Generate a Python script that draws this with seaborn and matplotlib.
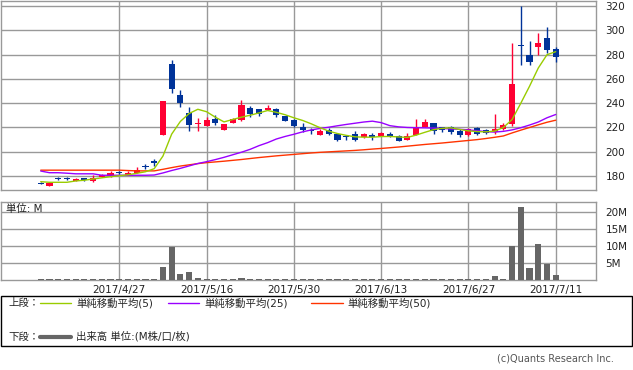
import numpy as np
import pandas as pd
import seaborn as sns
import matplotlib.pyplot as plt
from matplotlib.patches import Rectangle
from matplotlib.lines import Line2D


# 日足データ (2017/4/14 - 2017/7/11)
dates = ['4/14', '4/17', '4/18', '4/19', '4/20', '4/21', '4/24', '4/25', '4/26', '4/27',
         '4/28', '5/1', '5/2', '5/8', '5/9', '5/10', '5/11', '5/12', '5/15', '5/16',
         '5/17', '5/18', '5/19', '5/22', '5/23', '5/24', '5/25', '5/26', '5/29', '5/30',
         '5/31', '6/1', '6/2', '6/5', '6/6', '6/7', '6/8', '6/9', '6/12', '6/13',
         '6/14', '6/15', '6/16', '6/19', '6/20', '6/21', '6/22', '6/23', '6/26', '6/27',
         '6/28', '6/29', '6/30', '7/3', '7/4', '7/5', '7/6', '7/7', '7/10', '7/11']

opens = [173.6, 172.0, 177.4, 177.4, 176.0, 178.6, 176.2, 179.5, 180.2, 183.2,
         181.0, 182.7, 188.0, 192.5, 214.0, 272.0, 246.6, 231.8, 222.7, 221.1,
         226.6, 218.2, 224.0, 226.0, 236.2, 235.0, 234.8, 235.3, 229.3, 226.5,
         220.4, 217.3, 214.2, 217.8, 215.0, 212.3, 214.8, 212.3, 214.0, 213.0,
         215.0, 213.0, 209.7, 213.7, 220.0, 223.5, 220.0, 220.0, 217.0, 214.0,
         219.3, 217.8, 216.0, 218.7, 223.0, 287.7, 279.5, 286.3, 293.7, 284.4]
highs = [175.3, 175.0, 179.4, 179.4, 178.6, 178.6, 180.5, 182.0, 183.8, 184.0,
         184.2, 187.3, 190.0, 194.3, 242.0, 275.3, 250.7, 236.7, 228.0, 228.3,
         230.7, 223.0, 228.0, 242.7, 237.5, 235.5, 238.3, 236.0, 229.5, 226.8,
         223.3, 219.5, 219.0, 219.8, 215.5, 214.0, 217.5, 215.3, 215.3, 216.5,
         216.5, 214.0, 215.2, 227.0, 227.0, 223.6, 220.5, 221.0, 219.0, 219.5,
         220.8, 218.7, 231.3, 223.8, 289.5, 320.0, 291.0, 298.0, 302.7, 286.5]
lows = [173.0, 172.0, 177.0, 177.0, 175.9, 175.5, 175.0, 179.0, 179.5, 182.0,
        180.5, 182.3, 186.0, 188.0, 213.5, 248.5, 236.5, 217.2, 217.5, 221.0,
        222.0, 218.0, 223.5, 225.5, 228.5, 229.8, 234.3, 228.5, 225.4, 220.0,
        216.2, 215.0, 214.0, 214.0, 208.8, 209.5, 208.5, 211.0, 209.5, 212.8,
        211.8, 208.5, 209.5, 213.5, 220.0, 215.0, 216.5, 214.5, 212.5, 213.3,
        213.5, 215.0, 214.7, 218.3, 221.0, 271.2, 271.8, 279.5, 281.4, 274.0]
closes = [173.2, 174.5, 177.2, 177.2, 177.8, 176.7, 178.4, 181.0, 182.7, 182.8,
          182.7, 185.2, 187.7, 191.0, 241.6, 252.1, 240.3, 222.0, 223.3, 226.0,
          223.3, 222.7, 226.8, 238.2, 231.0, 231.5, 236.2, 230.2, 225.6, 221.2,
          218.2, 217.0, 217.5, 215.0, 209.5, 212.0, 210.0, 214.3, 211.8, 215.8,
          212.7, 208.8, 212.6, 220.0, 224.4, 217.2, 218.2, 216.2, 214.0, 218.6,
          215.0, 215.7, 218.8, 222.3, 255.6, 287.3, 274.0, 289.6, 283.6, 278.1]

# 単純移動平均 (チャートから読み取り)
ma5 = [175.3, 174.8, 174.8, 174.8, 175.9, 176.5, 177.5, 178.5, 179.4, 180.2,
       181.0, 182.2, 183.5, 186.0, 196.4, 214.5, 225.0, 231.5, 235.0, 233.0,
       228.5, 224.6, 226.6, 228.5, 230.1, 232.0, 234.0, 232.5, 230.5, 228.0,
       225.8, 223.0, 219.8, 217.0, 215.0, 213.5, 212.3, 212.0, 212.0, 212.5,
       212.6, 212.2, 211.8, 213.7, 216.0, 218.2, 219.3, 219.7, 218.4, 217.2,
       216.6, 216.4, 217.0, 220.0, 226.5, 240.0, 254.0, 269.0, 280.0, 282.5]
ma25 = [184.1, 182.7, 182.7, 182.3, 181.8, 181.8, 181.8, 180.6, 180.6, 180.6,
        180.6, 180.6, 180.6, 180.8, 182.5, 184.5, 186.3, 188.3, 190.3, 191.8,
        193.5, 195.4, 197.5, 199.6, 202.0, 205.0, 207.5, 210.5, 212.6, 214.4,
        216.4, 218.0, 219.2, 220.2, 221.4, 222.5, 223.5, 224.5, 225.2, 224.0,
        221.5, 220.5, 220.0, 219.8, 219.7, 219.5, 219.2, 218.8, 218.5, 218.0,
        217.3, 216.6, 216.2, 216.8, 218.0, 219.8, 222.0, 224.5, 228.0, 230.7]
ma50 = [184.8, 184.8, 184.8, 184.8, 184.8, 184.8, 184.8, 184.8, 184.8, 184.8,
        184.5, 184.2, 184.2, 184.2, 185.5, 186.9, 188.2, 189.2, 190.2, 191.0,
        191.6, 192.2, 192.9, 193.6, 194.4, 195.2, 195.9, 196.6, 197.2, 197.8,
        198.4, 199.0, 199.5, 199.9, 200.3, 200.7, 201.1, 201.6, 202.2, 202.7,
        203.3, 203.9, 204.6, 205.3, 206.0, 206.6, 207.2, 207.9, 208.6, 209.3,
        210.0, 210.9, 211.9, 213.0, 215.5, 217.8, 220.0, 222.2, 224.3, 226.0]

# 出来高 (M)
volume = [0.15, 0.15, 0.15, 0.15, 0.15, 0.15, 0.15, 0.15, 0.15, 0.15,
          0.15, 0.15, 0.15, 0.15, 3.9, 9.8, 1.85, 2.4, 0.6, 0.35,
          0.35, 0.15, 0.15, 0.6, 0.35, 0.15, 0.15, 0.15, 0.15, 0.15,
          0.15, 0.15, 0.15, 0.15, 0.15, 0.15, 0.15, 0.15, 0.15, 0.15,
          0.15, 0.15, 0.15, 0.3, 0.15, 0.15, 0.15, 0.15, 0.15, 0.15,
          0.15, 0.15, 1.0, 0.2, 10.0, 21.5, 3.6, 10.6, 4.7, 1.5]

tick_idx = [9, 19, 29, 39, 49, 59]
tick_labels = ['2017/4/27', '2017/5/16', '2017/5/30', '2017/6/13', '2017/6/27', '2017/7/11']
price_ticks = [180, 200, 220, 240, 260, 280, 300, 320]
vol_ticks = [5, 10, 15, 20]
vol_labels = ['5M', '10M', '15M', '20M']

df = pd.DataFrame({'idx': np.arange(len(dates)), 'date': dates, 'open': opens,
                   'high': highs, 'low': lows, 'close': closes,
                   'ma5': ma5, 'ma25': ma25, 'ma50': ma50, 'volume': volume})

sns.set_style('white')
plt.rcParams['font.family'] = ['DejaVu Sans', 'Noto Sans CJK JP']

RED = '#ff0033'
BLUE = '#003399'
GRID = '#999999'
W, H = 633, 370

fig = plt.figure(figsize=(W / 100, H / 100), dpi=100)
ax1 = fig.add_axes([1 / W, 1 - 190.3 / H, 594.7 / W, 189.8 / H])
ax2 = fig.add_axes([1 / W, 1 - 279.8 / H, 594.7 / W, 78.1 / H])

# ローソク足
up = df['close'] >= df['open']
colors = np.where(up, RED, BLUE)
ax1.vlines(df['idx'], df['low'], df['high'], colors=colors, lw=1, zorder=3)
body_h = np.maximum((df['close'] - df['open']).abs(), 0.8)
body_b = np.minimum(df['open'], df['close'])
ax1.bar(df['idx'], body_h, bottom=body_b, width=0.7, color=colors, lw=0, zorder=3)

# 移動平均
sns.lineplot(data=df, x='idx', y='ma50', ax=ax1, color='#ff3300', lw=1, zorder=4)
sns.lineplot(data=df, x='idx', y='ma25', ax=ax1, color='#9900ff', lw=1, zorder=4)
sns.lineplot(data=df, x='idx', y='ma5', ax=ax1, color='#99cc00', lw=1, zorder=5)

# 出来高
sns.barplot(data=df, x='idx', y='volume', ax=ax2, native_scale=True, color='#666666',
            width=0.7, saturation=1, errorbar=None, linewidth=0, zorder=3)

for ax in (ax1, ax2):
    ax.set_xlim(-4.55, 63.58)
    ax.set_xticks(tick_idx)
    ax.set_xlabel('')
    ax.set_ylabel('')
    ax.grid(True, color=GRID, lw=1)
    ax.set_axisbelow(True)
    for s in ax.spines.values():
        s.set_color(GRID)
        s.set_linewidth(1)
    ax.yaxis.tick_right()
    ax.tick_params(axis='both', length=0, labelsize=7.5, colors='#222222')
    ax.tick_params(axis='y', labelright=True, labelleft=False, pad=7)

ax1.set_ylim(168.2, 324.7)
ax1.set_yticks(price_ticks)
ax1.tick_params(axis='x', labelbottom=False)

ax2.set_ylim(0, 23)
ax2.set_yticks(vol_ticks)
ax2.set_yticklabels(vol_labels)
ax2.set_xticklabels(tick_labels)
ax2.tick_params(axis='x', pad=4)

fig.text(6 / W, 1 - 209 / H, '単位: M', fontsize=7.5, va='center', color='#222222')

# 凡例
fig.add_artist(Rectangle((0.5 / W, 1 - 345.7 / H), 631.5 / W, 50 / H,
                         transform=fig.transFigure, fill=False, edgecolor='black', lw=1))
y1 = 1 - 303.3 / H
y2 = 1 - 336.7 / H
fig.text(8 / W, y1, '上段：', fontsize=7.5, va='center')
legend_items = [(40, 71, '#99cc00', 76, '単純移動平均(5)'),
                (168, 199, '#9900ff', 204, '単純移動平均(25)'),
                (311, 343, '#ff3300', 347, '単純移動平均(50)')]
for x0, x1, c, tx, label in legend_items:
    fig.add_artist(Line2D([x0 / W, x1 / W], [y1, y1], color=c, lw=1, transform=fig.transFigure))
    fig.text(tx / W, y1, label, fontsize=7.5, va='center')
fig.text(8 / W, y2, '下段：', fontsize=7.5, va='center')
fig.add_artist(Line2D([40 / W, 71 / W], [y2, y2], color='#666666', lw=3, transform=fig.transFigure))
fig.text(76 / W, y2, '出来高 単位:(M株/口/枚)', fontsize=7.5, va='center')

fig.text(497 / W, 1 - 358.3 / H, '(c)Quants Research Inc.', fontsize=7, va='center', color='#555555')

fig.savefig('out.png', dpi=100)
